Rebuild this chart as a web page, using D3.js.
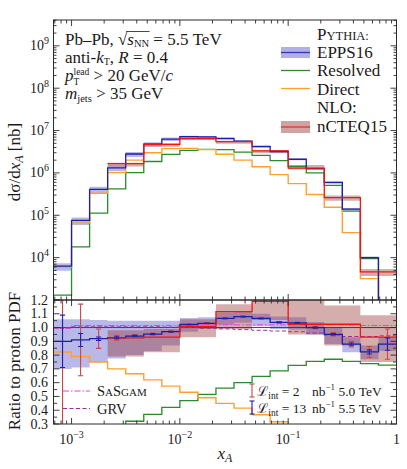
<!DOCTYPE html>
<html><head><meta charset="utf-8">
<script src="https://cdn.jsdelivr.net/npm/d3@7/dist/d3.min.js"></script>
<style>
body{margin:0;background:#fff}
svg text{font-family:'Liberation Serif','Tinos','Times New Roman','DejaVu Serif','Noto Serif',serif;fill:#1a1a1a}
</style></head>
<body><svg id="c" width="407" height="469" font-family="Liberation Serif, DejaVu Serif, serif"></svg>
<script>
// ---------- DATA ----------
const binEdges = [6.813e-4,1e-3,1.468e-3,2.154e-3,3.162e-3,4.642e-3,6.813e-3,0.01,0.01468,0.02154,0.03162,0.04642,0.06813,0.1,0.1468,0.2154,0.3162,0.4642,0.6813,1];
// top panel: dσ/dx_A [nb]
const epps16   = [6.3e3,7.6e4,4.1e5,1.32e6,2.8e6,4.8e6,6.3e6,7.2e6,7.1e6,6.5e6,5.6e6,4.2e6,3.2e6,2.1e6,1.26e6,6.0e5,1.4e5,1.0e4,0];
const resolved = [1.3e3,1.8e4,1.12e5,4.2e5,1.02e6,1.86e6,2.75e6,3.4e6,3.6e6,3.55e6,3.1e6,2.6e6,1.95e6,1.43e6,1.0e6,5.1e5,1.26e5,9.5e3,0];
const direct   = [6.0e3,6.6e4,3.3e5,1.02e6,2.0e6,3.0e6,3.75e6,3.8e6,3.55e6,2.75e6,2.0e6,1.4e6,9.1e5,5.6e5,3.1e5,1.55e5,3.9e4,3.2e3,0];
const ncteq15  = [null,null,null,1.65e6,1.65e6,4.7e6,4.7e6,6.5e6,6.5e6,5.5e6,5.5e6,3.3e6,3.3e6,1.3e6,1.3e6,2.6e5,2.6e5,4.6e3,4.6e3];
// bottom panel: ratio to proton PDF
const ratioEpps   = [0.90,0.91,0.919,0.926,0.938,0.953,0.97,1.022,1.031,1.067,1.079,1.067,1.038,1.033,1.0,0.951,0.88,0.823,0.88];
const eppsLo      = [0.70,0.71,0.75,0.775,0.80,0.83,0.87,0.97,0.99,1.02,1.035,1.01,0.99,0.985,0.95,0.88,0.82,0.77,0.83];
const eppsHi      = [1.06,1.06,1.055,1.05,1.05,1.05,1.05,1.07,1.075,1.11,1.12,1.10,1.08,1.075,1.04,1.0,0.93,0.87,0.93];
const ratioNcteq  = [null,null,null,0.925,0.925,0.93,0.93,1.006,1.006,1.115,1.115,1.19,1.19,1.024,1.024,1.024,1.024,0.93,0.93];
const ncteqLo     = [null,null,null,0.79,0.79,0.82,0.82,0.93,0.93,0.99,0.99,1.055,1.055,0.95,0.95,0.87,0.87,0.75,0.75];
const ncteqHi     = [null,null,null,0.98,0.98,0.99,0.99,1.06,1.06,1.17,1.17,1.26,1.26,1.21,1.21,1.16,1.16,1.09,1.09];
const ratioResolved = [0.20,0.23,0.25,0.28,0.32,0.37,0.42,0.47,0.515,0.56,0.60,0.645,0.685,0.725,0.755,0.77,0.755,0.738,0.728];
const ratioDirect   = [0.823,0.79,0.75,0.70,0.665,0.62,0.575,0.53,0.49,0.45,0.415,0.367,0.316,0.27,0.24,0.25,0.27,0.25,0.2];
const sasgam = [0.995,1.015,1.015,1.015,1.015,1.015,1.015,1.018,1.02,1.02,1.02,1.02,1.02,1.02,1.02,1.02,1.018,1.015,1.015];
const grv    = [0.995,1.005,1.005,1.005,1.005,1.005,1.003,1.0,0.995,0.99,0.985,0.98,0.975,0.97,0.96,0.945,0.935,0.935,0.94];
const errLumi2  = [0.65,0.26,0.07,0.017,0.011,0.008,0.006,0.005,0.005,0.005,0.005,0.005,0.006,0.007,0.008,0.012,0.02,0.04,0.11];
const errLumi13 = [0.19,0.047,0.012,0.007,0.005,0.003,0.003,0.002,0.002,0.002,0.002,0.002,0.003,0.003,0.004,0.005,0.008,0.015,0.045];
const yTopMajor = [1e3,1e4,1e5,1e6,1e7,1e8,1e9];
const yTopLabels = ["4","5","6","7","8","9"]; // exponents for 10^n labels (1e4..1e9)
const xMajor = [1e-3,1e-2,1e-1,1];
const xLabels = [["10","−3"],["10","−2"],["10","−1"],["1",""]];
const yBotTicks = [0.3,0.4,0.5,0.6,0.7,0.8,0.9,1.0,1.1,1.2];
const yBotLabels = ["0.3","0.4","0.5","0.6","0.7","0.8","0.9","1.0","1.1","1.2"];

// ---------- SETUP ----------
const svg = d3.select("#c");
const FONT = "'Liberation Serif','DejaVu Serif',serif";
const L=53.5, R=396.5, T=20, M=300, B=424;
const x = d3.scaleLog().domain([binEdges[0],1]).range([L,R]);
const yT = d3.scaleLog().domain([1e3, Math.pow(10,9.61)]).range([M,T]);
const yB = d3.scaleLinear().domain([0.3,1.2]).range([B,M]);

const C = {blue:"#1e1ea6", blueBand:"rgb(80,80,200)", red:"#f21515", redBand:"rgb(150,50,50)",
  green:"#2b8a2b", orange:"#ffa02e", mag:"#e83ce8", grv:"#a02aa0", errRed:"#c84848", errBlue:"#2020b0"};

const defs = svg.append("defs");
defs.append("clipPath").attr("id","cpT").append("rect").attr("x",L).attr("y",T).attr("width",R-L).attr("height",M-T);
defs.append("clipPath").attr("id","cpB").append("rect").attr("x",L).attr("y",M).attr("width",R-L).attr("height",B-M);

function rich(g, x0, y0, pieces, anchor){
  let cx=x0, stack=0; const els=[], xs=[];
  pieces.forEach(p=>{
    if(p.at!==undefined) cx=Math.max(cx,p.at);
    const t=g.append("text").attr("x",cx).attr("y",y0+(p.b||0)).attr("font-size",p.s)
      .attr("font-family",FONT).attr("font-style",p.i?"italic":"normal").text(p.t);
    const w=t.node().getComputedTextLength();
    xs.push([cx,cx+w]);
    if(p.keep){stack=Math.max(stack,w);} else {cx+=Math.max(w,stack)+(p.gap||0); stack=0;}
    els.push(t);
  });
  const W=cx-x0;
  let sh = anchor==="middle"? -W/2 : anchor==="end"? -W : 0;
  if(sh) els.forEach(e=>e.attr("x",+e.attr("x")+sh));
  return xs.map(a=>[a[0]+sh,a[1]+sh]);
}

function stepLine(g, vals, ys, floorY, color, w, clip, extra){
  let d="", started=false;
  vals.forEach((v,i)=>{
    const x0=x(binEdges[i]), x1=x(binEdges[i+1]);
    if(v===null){started=false;return;}
    if(v<=0){ if(started){ d+=`L${x0},${floorY}`; } started=false; return;}
    const y=ys(v);
    d += started? `L${x0},${y}L${x1},${y}` : `M${x0},${y}L${x1},${y}`;
    started=true;
  });
  const p=g.append("path").attr("d",d).attr("fill","none").attr("stroke",color).attr("stroke-width",w)
    .attr("clip-path",`url(#${clip})`);
  if(extra) extra(p);
  return p;
}
function bandPath(g, lo, hi, ys, fill, op, clip){
  const pts=[];
  lo.forEach((l,i)=>{ if(l===null||hi[i]===null){pts.push(null);return;}
    pts.push({x:binEdges[i],lo:l,hi:hi[i]},{x:binEdges[i+1],lo:l,hi:hi[i]}); });
  const area=d3.area().defined(d=>d!==null).x(d=>x(d.x)).y0(d=>ys(d.lo)).y1(d=>ys(d.hi));
  g.append("path").attr("d",area(pts)).attr("fill",fill).attr("fill-opacity",op).attr("clip-path",`url(#${clip})`);
}

// ---------- TOP PANEL ----------
const gT = svg.append("g");
const eppsTopLo = epps16.map((v,i)=> v>0? v*eppsLo[i]/ratioEpps[i] : null);
const eppsTopHi = epps16.map((v,i)=> v>0? v*eppsHi[i]/ratioEpps[i] : null);
const ncTopLo = ncteq15.map((v,i)=> v? v*ncteqLo[i]/ratioNcteq[i] : null);
const ncTopHi = ncteq15.map((v,i)=> v? v*ncteqHi[i]/ratioNcteq[i] : null);
bandPath(gT, eppsTopLo, eppsTopHi, yT, C.blueBand, 0.4, "cpT");
bandPath(gT, ncTopLo, ncTopHi, yT, C.redBand, 0.4, "cpT");
stepLine(gT, resolved, yT, M, C.green, 1.3, "cpT");
stepLine(gT, direct, yT, M, C.orange, 1.4, "cpT");
stepLine(gT, epps16, yT, M, C.blue, 1.3, "cpT");
stepLine(gT, ncteq15, yT, M, C.red, 1.3, "cpT");

// ---------- BOTTOM PANEL ----------
const gB = svg.append("g");
bandPath(gB, eppsLo, eppsHi, yB, C.blueBand, 0.4, "cpB");
bandPath(gB, ncteqLo, ncteqHi, yB, C.redBand, 0.4, "cpB");
gB.append("line").attr("x1",L).attr("x2",R).attr("y1",yB(1)).attr("y2",yB(1)).attr("stroke","#333").attr("stroke-width",0.9);
stepLine(gB, ratioResolved, yB, B, C.green, 1.3, "cpB");
stepLine(gB, ratioDirect, yB, B, C.orange, 1.4, "cpB");
stepLine(gB, grv, yB, B, C.grv, 1.0, "cpB", p=>p.attr("stroke-dasharray","4,2.5"));
stepLine(gB, sasgam, yB, B, C.mag, 1.0, "cpB", p=>p.attr("stroke-dasharray","6,2,1.5,2"));
stepLine(gB, ratioEpps, yB, B, C.blue, 1.3, "cpB");
stepLine(gB, ratioNcteq, yB, B, C.red, 1.3, "cpB");
const gE = gB.append("g").attr("clip-path","url(#cpB)");
function errBars(errs,color,cap){
  errs.forEach((e,i)=>{
    const cx=x(Math.sqrt(binEdges[i]*binEdges[i+1]));
    const v=ratioEpps[i];
    gE.append("line").attr("x1",cx).attr("x2",cx).attr("y1",yB(v+e)).attr("y2",yB(v-e)).attr("stroke",color).attr("stroke-width",1.1);
    [v+e,v-e].forEach(yy=>gE.append("line").attr("x1",cx-cap).attr("x2",cx+cap).attr("y1",yB(yy)).attr("y2",yB(yy)).attr("stroke",color).attr("stroke-width",1.1));
  });
}
errBars(errLumi2, C.errRed, 2.6);
errBars(errLumi13, C.errBlue, 2.6);

// ---------- AXES ----------
const gA = svg.append("g");
const stroke="#2a2a2a";
[[T,M],[M,B]].forEach(([t,b])=>gA.append("rect").attr("x",L).attr("y",t).attr("width",R-L).attr("height",b-t).attr("fill","none").attr("stroke",stroke).attr("stroke-width",1));
function tick(x1,y1,x2,y2){gA.append("line").attr("x1",x1).attr("y1",y1).attr("x2",x2).attr("y2",y2).attr("stroke",stroke).attr("stroke-width",0.9);}
const xMinor=[];
[1e-4,1e-3,1e-2,1e-1].forEach(d=>{for(let k=2;k<=9;k++){const v=k*d; if(v>binEdges[0]&&v<1) xMinor.push(v);}});
[[T,1],[M,-1],[M,1],[B,-1]].forEach(([yy,dir])=>{
  xMajor.forEach(v=>{const px=x(v); tick(px,yy,px,yy+dir*6);});
  xMinor.forEach(v=>{const px=x(v); tick(px,yy,px,yy+dir*3.5);});
});
const yMinor=[];
[1e3,1e4,1e5,1e6,1e7,1e8,1e9].forEach(d=>{for(let k=2;k<=9;k++){const v=k*d; if(v<Math.pow(10,9.61)) yMinor.push(v);}});
[[L,1],[R,-1]].forEach(([xx,dir])=>{
  yTopMajor.forEach(v=>{const py=yT(v); tick(xx,py,xx+dir*6,py);});
  yMinor.forEach(v=>{const py=yT(v); tick(xx,py,xx+dir*3,py);});
  yBotTicks.forEach(v=>{const py=yB(v); tick(xx,py,xx+dir*6,py);});
  yBotTicks.slice(0,-1).forEach(v=>{const py=yB(v+0.05); tick(xx,py,xx+dir*3.5,py);});
});
const TS=14;
yTopLabels.forEach((e,i)=>{
  const py=yT(yTopMajor[i+1]);
  rich(gA, 30, py+4.5, [{t:"10",s:TS},{t:e,s:10,b:-6}]);
});
yBotLabels.forEach((l,i)=>{
  gA.append("text").attr("x",48).attr("y",yB(yBotTicks[i])+4.5).attr("text-anchor","end").attr("font-family",FONT).attr("font-size",TS).text(l);
});
xLabels.forEach((l,i)=>{
  const px=x(xMajor[i]);
  if(l[1]) rich(gA, px, 444, [{t:l[0],s:TS},{t:l[1],s:10,b:-6}], "middle");
  else gA.append("text").attr("x",px).attr("y",444).attr("text-anchor","middle").attr("font-family",FONT).attr("font-size",TS).text(l[0]);
});
rich(gA, 225, 459, [{t:"x",s:17,i:1},{t:"A",s:12,i:1,b:3}], "middle");
const gy1=gA.append("g").attr("transform","translate(20,162) rotate(-90)");
rich(gy1,0,0,[{t:"dσ/d",s:17},{t:"x",s:17,i:1},{t:"A",s:12,i:1,b:3},{t:"\u00a0[nb]",s:17}],"middle");
const gy2=gA.append("g").attr("transform","translate(20,361) rotate(-90)");
rich(gy2,0,0,[{t:"Ratio to proton PDF",s:17}],"middle");

// ---------- ANNOTATION ----------
const F=17, gN=svg.append("g");
const l1=rich(gN,65,44.5,[{t:"Pb–Pb,\u00a0",s:F},{t:"√",s:F},{t:"s",s:F,i:1},{t:"NN",s:10.5,b:2.5},{t:"\u00a0=\u00a05.5\u00a0TeV",s:F}]);
gN.append("line").attr("x1",l1[1][1]-1).attr("x2",l1[3][1]+0.5).attr("y1",31.5).attr("y2",31.5).attr("stroke","#1a1a1a").attr("stroke-width",0.8);
rich(gN,65,62.5,[{t:"anti-",s:F},{t:"k",s:F,i:1},{t:"T",s:10,b:2},{t:",\u00a0",s:F},{t:"R",s:F,i:1},{t:"\u00a0=\u00a00.4",s:F}]);
rich(gN,65,80.5,[{t:"p",s:F,i:1},{t:"T",s:9.5,b:4.5,keep:1},{t:"lead",s:9.5,b:-6},{t:"\u00a0>\u00a020\u00a0GeV/",s:F},{t:"c",s:F,i:1}]);
rich(gN,65,98.5,[{t:"m",s:F,i:1},{t:"jets",s:10.5,b:3},{t:"\u00a0>\u00a035\u00a0GeV",s:F}]);

// ---------- LEGEND (top) ----------
const gL=svg.append("g"), LX=317, SX0=281, SX1=310;
rich(gL,LX,39.5,[{t:"P",s:F},{t:"YTHIA:",s:12.5}]);
gL.append("rect").attr("x",SX0).attr("y",47).attr("width",SX1-SX0).attr("height",11).attr("fill",C.blueBand).attr("fill-opacity",0.45);
gL.append("line").attr("x1",SX0).attr("x2",SX1).attr("y1",52.5).attr("y2",52.5).attr("stroke","#3535b5").attr("stroke-width",1.3);
rich(gL,LX,57.5,[{t:"EPPS16",s:F}]);
gL.append("line").attr("x1",SX0).attr("x2",SX1).attr("y1",70.5).attr("y2",70.5).attr("stroke",C.green).attr("stroke-width",1.3);
rich(gL,LX,76,[{t:"Resolved",s:F}]);
gL.append("line").attr("x1",SX0).attr("x2",SX1).attr("y1",88.5).attr("y2",88.5).attr("stroke",C.orange).attr("stroke-width",1.3);
rich(gL,LX,94.5,[{t:"Direct",s:F}]);
rich(gL,LX,113,[{t:"NLO:",s:F}]);
gL.append("rect").attr("x",SX0).attr("y",121).attr("width",SX1-SX0).attr("height",12).attr("fill",C.redBand).attr("fill-opacity",0.45);
gL.append("line").attr("x1",SX0).attr("x2",SX1).attr("y1",127).attr("y2",127).attr("stroke","#e03535").attr("stroke-width",1.3);
rich(gL,LX,131.5,[{t:"nCTEQ15",s:F}]);

// ---------- LEGENDS (bottom) ----------
const gL2=svg.append("g");
gL2.append("line").attr("x1",63).attr("x2",90).attr("y1",391).attr("y2",391).attr("stroke",C.mag).attr("stroke-width",1).attr("stroke-dasharray","6,2,1.5,2");
rich(gL2,97,396,[{t:"S",s:14.5},{t:"A",s:11},{t:"S",s:14.5},{t:"GAM",s:11}]);
gL2.append("line").attr("x1",63).attr("x2",90).attr("y1",408.5).attr("y2",408.5).attr("stroke",C.grv).attr("stroke-width",1).attr("stroke-dasharray","4,2.5");
rich(gL2,97,413.5,[{t:"GRV",s:14.5}]);
function ebIcon(cx,y1,y2,color){
  gL2.append("line").attr("x1",cx).attr("x2",cx).attr("y1",y1).attr("y2",y2).attr("stroke",color).attr("stroke-width",1.1);
  [y1,y2].forEach(yy=>gL2.append("line").attr("x1",cx-2.5).attr("x2",cx+2.5).attr("y1",yy).attr("y2",yy).attr("stroke",color).attr("stroke-width",1.1));
}
ebIcon(252,384,397,C.errRed);
ebIcon(252,401,414,C.errBlue);
const ES=13.5;
rich(gL2,257,396,[{t:"ℒ",s:ES},{t:"int",s:9.5,b:3},{t:"\u00a0=\u00a02",s:ES},{t:"nb",s:ES,at:312},{t:"−1",s:9,b:-6},{t:"\u00a05.0\u00a0TeV",s:ES}]);
rich(gL2,257,413,[{t:"ℒ",s:ES},{t:"int",s:9.5,b:3},{t:"\u00a0=\u00a013",s:ES,gap:3},{t:"nb",s:ES,at:312},{t:"−1",s:9,b:-6},{t:"\u00a05.5\u00a0TeV",s:ES}]);
</script></body></html>
